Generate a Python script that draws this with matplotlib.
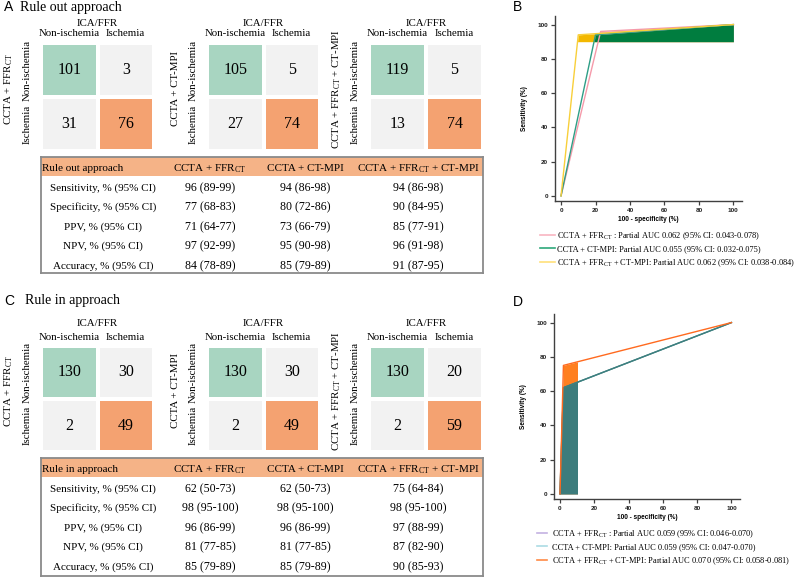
import numpy as np
import matplotlib
matplotlib.use("Agg")
import matplotlib.pyplot as plt
from matplotlib.colors import ListedColormap
from matplotlib.lines import Line2D
from matplotlib.patches import Rectangle

plt.rcParams["font.family"] = "Liberation Serif"
plt.rcParams["mathtext.fontset"] = "custom"
plt.rcParams["mathtext.rm"] = "Liberation Serif"
plt.rcParams["mathtext.it"] = "Liberation Serif:italic"
plt.rcParams["mathtext.bf"] = "Liberation Serif:bold"

W, H = 796, 577
FFR = r"FFR$_{\mathrm{CT}}$"

outcome_labels = ["Non-ischemia", "Ischemia"]
strategies = ["CCTA + " + FFR, "CCTA + CT-MPI", "CCTA + " + FFR + " + CT-MPI"]

rule_out_counts = [[[101, 3], [31, 76]], [[105, 5], [27, 74]], [[119, 5], [13, 74]]]
rule_in_counts = [[[130, 30], [2, 49]], [[130, 30], [2, 49]], [[130, 20], [2, 59]]]

metric_labels = ["Sensitivity, % (95% CI)", "Specificity, % (95% CI)", "PPV, % (95% CI)",
                 "NPV, % (95% CI)", "Accuracy, % (95% CI)"]
rule_out_metrics = [
    ["96 (89-99)", "77 (68-83)", "71 (64-77)", "97 (92-99)", "84 (78-89)"],
    ["94 (86-98)", "80 (72-86)", "73 (66-79)", "95 (90-98)", "85 (79-89)"],
    ["94 (86-98)", "90 (84-95)", "85 (77-91)", "96 (91-98)", "91 (87-95)"],
]
rule_in_metrics = [
    ["62 (50-73)", "98 (95-100)", "96 (86-99)", "81 (77-85)", "85 (79-89)"],
    ["62 (50-73)", "98 (95-100)", "96 (86-99)", "81 (77-85)", "85 (79-89)"],
    ["75 (64-84)", "98 (95-100)", "97 (88-99)", "87 (82-90)", "90 (85-93)"],
]

# ROC points: 100 - specificity (%), sensitivity (%)
rule_out_fpr = [[0, 23, 100], [0, 20, 100], [0, 10, 100]]
rule_out_sens = [[0, 96, 100], [0, 94, 100], [0, 94, 100]]
rule_in_fpr = [[0, 2, 100], [0, 2, 100], [0, 2, 100]]
rule_in_sens = [[0, 62, 100], [0, 62, 100], [0, 75, 100]]

rule_out_auc = ["0.062 (95% CI: 0.043-0.078)", "0.055 (95% CI: 0.032-0.075)", "0.062 (95% CI: 0.038-0.084)"]
rule_in_auc = ["0.059 (95% CI: 0.046-0.070)", "0.059 (95% CI: 0.047-0.070)", "0.070 (95% CI: 0.058-0.081)"]

cell_cmap = ListedColormap(["#A8D5C1", "#F2F2F2", "#F4A271"])
header_fill = "#F5B387"

fig = plt.figure(figsize=(W / 100, H / 100), dpi=100)


def px_axes(x0, y0, x1, y1):
    return fig.add_axes([x0 / W, 1 - y1 / H, (x1 - x0) / W, (y1 - y0) / H])


def draw_matrix(ax, counts, row_title, top_gap):
    cat = np.array([[0, 1], [1, 2]])
    ax.pcolormesh(cat, cmap=cell_cmap, vmin=-0.5, vmax=2.5, edgecolors="white", linewidth=1.6)
    ax.set_xlim(0, 2)
    ax.set_ylim(2, 0)
    ax.set_axis_off()
    for i in range(2):
        for j in range(2):
            ax.text(j + 0.5, i + 0.5, str(counts[i][j]), ha="center", va="center", fontsize=11.5)
    for j, lab in enumerate(outcome_labels):
        ax.annotate(lab, xy=(j + 0.5, 0), xytext=(0, 9), textcoords="offset pixels",
                    ha="center", va="center", fontsize=7.8)
        ax.annotate(lab, xy=(0, j + 0.5), xytext=(-14, 0), textcoords="offset pixels",
                    ha="center", va="center", rotation=90, fontsize=7.8)
    ax.annotate("ICA/FFR", xy=(1, 0), xytext=(0, top_gap), textcoords="offset pixels",
                ha="center", va="center", fontsize=7.8)
    ax.annotate(row_title, xy=(0, 1), xytext=(-32, 8), textcoords="offset pixels",
                ha="center", va="center", rotation=90, fontsize=7.8)


def draw_table(ax, title, metrics, box_w, box_h):
    ax.set_xlim(0, box_w)
    ax.set_ylim(box_h, 0)
    ax.set_xticks([])
    ax.set_yticks([])
    for s in ax.spines.values():
        s.set_color("#8A8A8A")
        s.set_linewidth(1.3)
    ax.axhspan(0, 19, color=header_fill, lw=0)
    col_x = [169, 264, 377]
    ax.text(1, 11.5, title, ha="left", va="center", fontsize=8)
    for c, name in enumerate(strategies):
        ax.text(col_x[c], 11.5, name, ha="center", va="center", fontsize=8)
    for r, lab in enumerate(metric_labels):
        y = 31 + 19.5 * r
        ax.text(62, y, lab, ha="center", va="center", fontsize=8)
        for c in range(3):
            ax.text(col_x[c], y, metrics[c][r], ha="center", va="center", fontsize=8.6)


def style_roc(ax):
    ax.set_xlim(-3.5, 105)
    ax.set_ylim(-3, 105)
    ax.set_xticks(range(0, 101, 20))
    ax.set_yticks(range(0, 101, 20))
    for s in ["top", "right"]:
        ax.spines[s].set_visible(False)
    for s in ["left", "bottom"]:
        ax.spines[s].set_linewidth(1.0)
        ax.spines[s].set_color("#404040")
    ax.tick_params(length=3, width=0.9, color="#404040", pad=2)
    for lab in ax.get_xticklabels() + ax.get_yticklabels():
        lab.set_family("Liberation Sans")
        lab.set_fontweight("bold")
        lab.set_fontsize(4.6)
        lab.set_color("#222222")
    ax.set_xlabel("100 - specificity (%)", family="Liberation Sans", fontweight="bold",
                  fontsize=4.7, labelpad=2)
    ax.set_ylabel("Sensitivity (%)", family="Liberation Sans", fontweight="bold",
                  fontsize=4.7, labelpad=7)
    ax.patch.set_alpha(0)


# ---- panel letters and titles
fig.text(4 / W, 1 - 7 / H, "A", family="Liberation Sans", fontsize=10, va="center")
fig.text(20 / W, 1 - 7 / H, "Rule out approach", fontsize=10, va="center")
fig.text(4 / W, 1 - 301 / H, "C", family="Liberation Sans", fontsize=10, va="center")
fig.text(25 / W, 1 - 300 / H, "Rule in approach", fontsize=10, va="center")
fig.text(513 / W, 1 - 7 / H, "B", family="Liberation Sans", fontsize=10, va="center")
fig.text(513 / W, 1 - 302 / H, "D", family="Liberation Sans", fontsize=10, va="center")

# ---- confusion matrices
mat_x = [(41, 154), (207, 320), (369, 483)]
for k in range(3):
    ax = px_axes(mat_x[k][0], 43, mat_x[k][1], 151)
    draw_matrix(ax, rule_out_counts[k], strategies[k], 20)
    ax = px_axes(mat_x[k][0], 346, mat_x[k][1], 452)
    draw_matrix(ax, rule_in_counts[k], strategies[k], 23)

# ---- tables
tab = px_axes(41, 157, 483, 273)
draw_table(tab, "Rule out approach", rule_out_metrics, 442, 116)
tab = px_axes(41, 458, 483, 576)
draw_table(tab, "Rule in approach", rule_in_metrics, 442, 118)

# ---- B: rule out ROC, partial AUC over sensitivity 90-100
axB = px_axes(555, 16, 742, 201)
fill_b = ["#F4A8B4", "#007D3F", "#F3B800"]
line_b = ["#F59AAA", "#2E9E86", "#F8CF3A"]
leg_b = ["#F8B5C1", "#2EA87A", "#FFE07A"]
for k in [2, 0, 1]:
    sens = np.array(rule_out_sens[k])
    axB.fill_between(rule_out_fpr[k], sens, 90, where=sens >= 90, interpolate=True,
                     color=fill_b[k], lw=0)
for k in range(3):
    axB.plot(rule_out_fpr[k], rule_out_sens[k], color=line_b[k], lw=1.0)
style_roc(axB)
labels_b = ["CCTA + " + FFR + " : Partial AUC " + rule_out_auc[0],
            "CCTA + CT-MPI: Partial AUC " + rule_out_auc[1],
            "CCTA + " + FFR + " + CT-MPI: Partial AUC " + rule_out_auc[2]]
handles_b = [Line2D([], [], color=c, lw=1.2) for c in leg_b]
axB.legend(handles_b, labels_b, loc="upper left", bbox_to_anchor=(540 / W, 1 - 230 / H),
           bbox_transform=fig.transFigure, frameon=False, fontsize=6.05, handlelength=1.75,
           handletextpad=0.3, labelspacing=0.45, borderpad=0, borderaxespad=0)

# ---- D: rule in ROC, partial AUC over specificity 90-100
axD = px_axes(554, 314, 740, 499)
fill_d = ["#3D7C7C", "#3D7C7C", "#FF7F20"]
line_d = ["#3D7C7C", "#3D8080", "#FF6A1F"]
leg_d = ["#C4B2E2", "#ABDCE4", "#FF8A45"]
for k in [2, 0, 1]:
    poly = axD.fill_between(rule_in_fpr[k], rule_in_sens[k], 0, color=fill_d[k], lw=0)
    poly.set_clip_path(Rectangle((0, 0), 10, 100, transform=axD.transData))
for k in [0, 1, 2]:
    axD.plot(rule_in_fpr[k], rule_in_sens[k], color=line_d[k], lw=1.0)
style_roc(axD)
labels_d = ["CCTA + " + FFR + " : Partial AUC " + rule_in_auc[0],
            "CCTA + CT-MPI: Partial AUC " + rule_in_auc[1],
            "CCTA + " + FFR + " + CT-MPI: Partial AUC " + rule_in_auc[2]]
handles_d = [Line2D([], [], color=c, lw=1.2) for c in leg_d]
axD.legend(handles_d, labels_d, loc="upper left", bbox_to_anchor=(537 / W, 1 - 528 / H),
           bbox_transform=fig.transFigure, frameon=False, fontsize=6.05, handlelength=1.2,
           handletextpad=0.55, labelspacing=0.45, borderpad=0, borderaxespad=0)

fig.savefig("out.png", dpi=100)
